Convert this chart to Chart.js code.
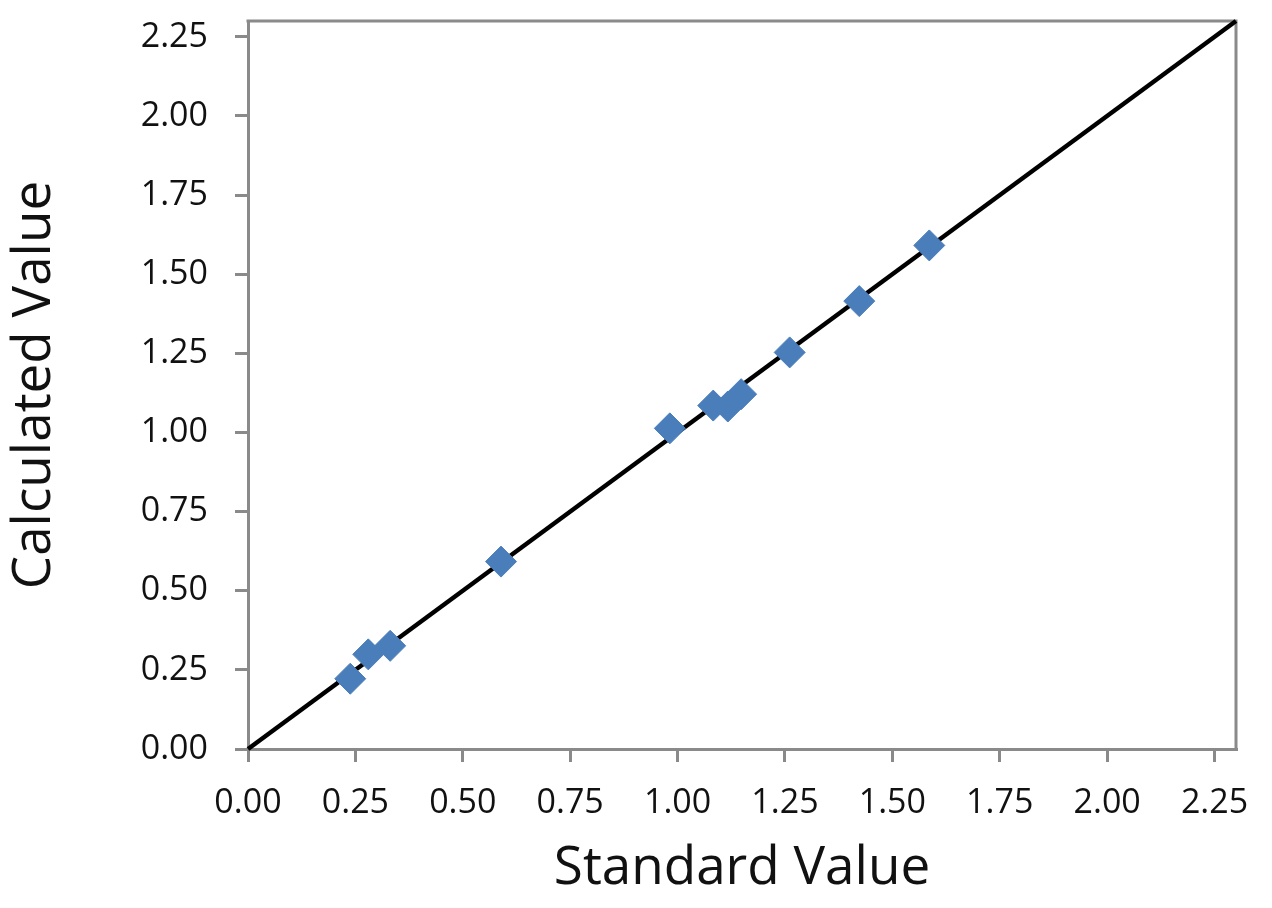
<!DOCTYPE html>
<html>
<head>
<meta charset="utf-8">
<script src="https://cdn.jsdelivr.net/npm/chart.js@4/dist/chart.umd.min.js"></script>
<style>
  html, body { margin: 0; padding: 0; background: #fff; }
  #wrap { width: 1272px; height: 908px; }
</style>
</head>
<body>
<div id="wrap"><canvas id="c" width="1272" height="908"></canvas></div>
<script>
// ---- data ----
const standardValues   = [0.238, 0.280, 0.331, 0.589, 0.982, 1.083, 1.117, 1.148, 1.261, 1.423, 1.586];
const calculatedValues = [0.222, 0.299, 0.326, 0.592, 1.013, 1.085, 1.082, 1.121, 1.253, 1.415, 1.591];
const lineX = [0, 2.3];
const lineY = [0, 2.3];
const tickValues = [0, 0.25, 0.5, 0.75, 1.0, 1.25, 1.5, 1.75, 2.0, 2.25];
const xTitle = 'Standard Value';
const yTitle = 'Calculated Value';

const GRAY = '#8a8a8a';
const FONT = "'Open Sans', 'Noto Sans', sans-serif";

const boxPlugin = {
  id: 'box',
  beforeDatasetsDraw(chart) {
    const a = chart.chartArea, ctx = chart.ctx;
    ctx.save();
    ctx.strokeStyle = GRAY;
    ctx.lineWidth = 3;
    ctx.beginPath();
    ctx.moveTo(a.left - 1.5, a.top);
    ctx.lineTo(a.right, a.top);
    ctx.lineTo(a.right, a.bottom);
    ctx.stroke();
    ctx.restore();
  }
};

function axisCommon(title, isX) {
  return {
    type: 'linear',
    min: 0,
    max: 2.3,
    afterBuildTicks(axis) { axis.ticks = tickValues.map(v => ({ value: v })); },
    ticks: {
      color: '#111',
      font: { family: FONT, size: 34 },
      padding: isX ? 21 : 27,
      callback: v => Number(v).toFixed(2),
      maxRotation: 0,
      autoSkip: false
    },
    grid: {
      drawOnChartArea: false,
      drawTicks: true,
      tickLength: 13,
      color: GRAY,
      lineWidth: 3
    },
    border: { display: true, color: GRAY, width: 3 },
    title: {
      display: true,
      text: title,
      color: '#111',
      font: { family: FONT, size: 53 },
      padding: isX ? { top: 0, bottom: 7 } : { top: 3, bottom: 0 }
    },
    afterFit(axis) {
      if (isX) axis.height = 159; else axis.width = 248;
      axis.paddingTop = 0;
      axis.paddingBottom = 0;
      axis.paddingLeft = 0;
      axis.paddingRight = 0;
    }
  };
}

new Chart(document.getElementById('c'), {
  type: 'scatter',
  data: {
    datasets: [
      {
        label: 'Samples',
        data: standardValues.map((x, i) => ({ x: x, y: calculatedValues[i] })),
        pointStyle: 'rectRot',
        pointRadius: 15.5,
        pointHoverRadius: 15.5,
        backgroundColor: '#4a7ebb',
        borderColor: '#4a7ebb',
        borderWidth: 1,
        order: 0
      },
      {
        label: 'y = x',
        data: lineX.map((x, i) => ({ x: x, y: lineY[i] })),
        showLine: true,
        borderColor: '#000',
        borderWidth: 4.5,
        pointRadius: 0,
        pointHoverRadius: 0,
        fill: false,
        clip: false,
        order: 1
      }
    ]
  },
  options: {
    responsive: false,
    animation: false,
    devicePixelRatio: 1,
    layout: { padding: { left: 0, right: 36, top: 21, bottom: 0 } },
    plugins: {
      legend: { display: false },
      tooltip: { enabled: false }
    },
    scales: {
      x: axisCommon(xTitle, true),
      y: axisCommon(yTitle, false)
    }
  },
  plugins: [boxPlugin]
});
</script>
</body>
</html>
